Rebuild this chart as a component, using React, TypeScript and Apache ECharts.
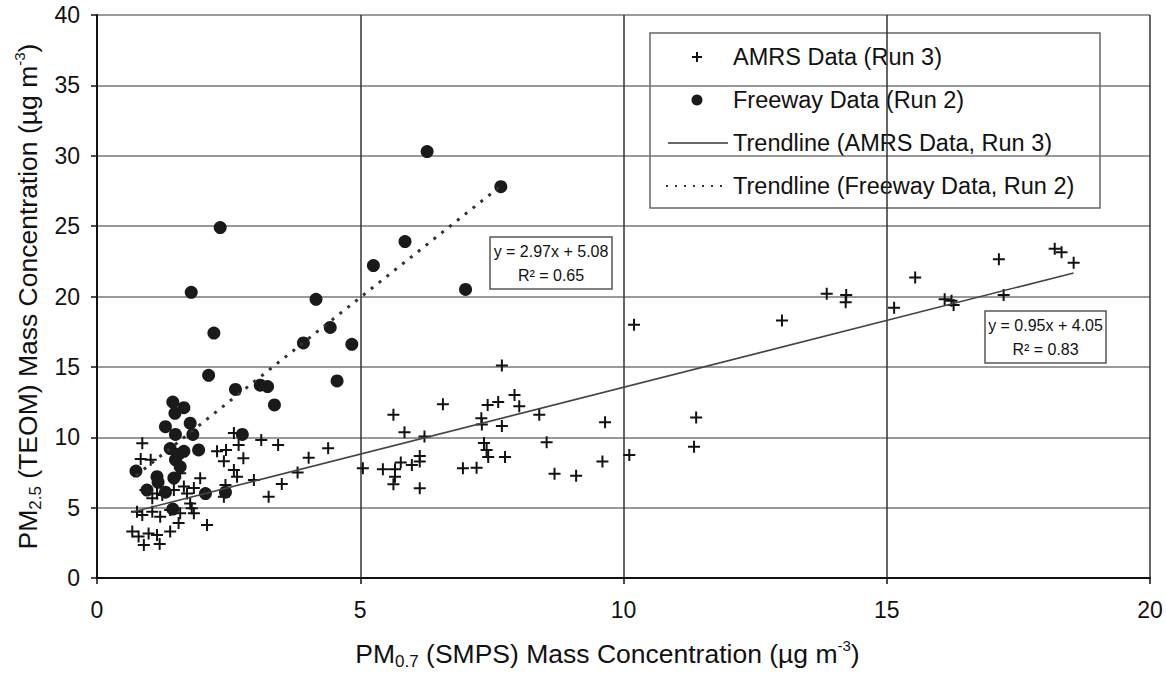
import React, { useEffect, useRef } from "react";
import * as echarts from "echarts";

// ---- data ----
const amrsPoints: [number, number][] = [
  [0.67, 3.3], [0.76, 4.7], [0.79, 2.94], [0.83, 8.46], [0.86, 9.57], [0.86, 4.48],
  [0.89, 2.35], [0.92, 6.25], [0.98, 3.17], [1.02, 8.4], [1.05, 4.7], [1.05, 5.66],
  [1.14, 3.06], [1.14, 6.0], [1.19, 2.42], [1.2, 4.36], [1.24, 5.9], [1.39, 4.83],
  [1.39, 3.3], [1.46, 6.25], [1.55, 3.9], [1.58, 4.6], [1.58, 7.44], [1.65, 6.5],
  [1.71, 6.0], [1.77, 5.3], [1.8, 4.95], [1.84, 4.6], [1.84, 6.4], [1.96, 7.09], [2.09, 3.77],
  [2.28, 9.0], [2.45, 9.1], [2.41, 8.3], [2.6, 10.3], [2.69, 9.45], [2.78, 8.5],
  [2.6, 7.68], [2.66, 7.2], [2.44, 6.6], [2.41, 5.78], [2.98, 6.97], [3.12, 9.8],
  [3.26, 5.78], [3.44, 9.45], [3.51, 6.68], [3.81, 7.5], [4.02, 8.55], [4.39, 9.22],
  [5.05, 7.8], [5.43, 7.73], [5.63, 11.6], [5.66, 7.73], [5.66, 7.2], [5.63, 6.66],
  [5.77, 8.2], [5.84, 10.35], [5.98, 8.03], [6.13, 8.67], [6.13, 8.27], [6.13, 6.38],
  [6.22, 10.05], [6.57, 12.35], [6.95, 7.8], [7.21, 7.84], [7.3, 11.35], [7.31, 10.9],
  [7.35, 9.6], [7.4, 9.1], [7.43, 8.6], [7.42, 12.3], [7.62, 12.5], [7.93, 13.0],
  [8.02, 12.2], [7.69, 10.8], [7.69, 15.1], [7.75, 8.6], [8.4, 11.6], [8.54, 9.65],
  [8.69, 7.4], [9.1, 7.27], [9.6, 8.27], [9.65, 11.07], [10.11, 8.74], [10.2, 18.0],
  [11.38, 11.4], [11.34, 9.33],
  [13.01, 18.3], [13.86, 20.2], [14.23, 20.1], [14.22, 19.6], [15.14, 19.2], [15.54, 21.35],
  [16.1, 19.8], [16.23, 19.7], [16.27, 19.4], [17.13, 22.65], [17.22, 20.1],
  [18.19, 23.4], [18.32, 23.15], [18.55, 22.4],
];

const freewayPoints: [number, number][] = [
  [0.74, 7.6], [0.95, 6.25], [1.14, 7.2], [1.16, 6.8], [1.3, 6.1], [1.3, 10.75],
  [1.39, 9.2], [1.44, 4.9], [1.44, 12.5], [1.46, 7.1], [1.48, 11.7], [1.49, 10.2],
  [1.49, 8.4], [1.55, 8.8], [1.58, 7.9], [1.65, 12.1], [1.65, 9.0], [1.77, 11.0],
  [1.79, 20.3], [1.82, 10.2], [1.93, 9.1], [2.06, 6.0], [2.12, 14.4], [2.22, 17.4],
  [2.34, 24.9], [2.44, 6.1], [2.63, 13.4], [2.76, 10.2], [3.1, 13.7], [3.24, 13.6],
  [3.37, 12.3], [3.92, 16.7], [4.16, 19.8], [4.43, 17.8], [4.56, 14.0], [4.84, 16.6],
  [5.25, 22.2], [5.85, 23.9], [6.27, 30.3], [7.0, 20.5], [7.67, 27.8],
];

const amrsTrendCoef = [0.95, 4.05]; // slope, intercept
const freewayTrendCoef = [2.97, 5.08];

const legendLabels = [
  "AMRS Data (Run 3)",
  "Freeway Data (Run 2)",
  "Trendline (AMRS Data, Run 3)",
  "Trendline (Freeway Data, Run 2)",
];
const freewayEqLines = ["y = 2.97x + 5.08", "R² = 0.65"];
const amrsEqLines = ["y = 0.95x + 4.05", "R² = 0.83"];

const FONT = "'Liberation Sans', Arial, sans-serif";

function trendLine(points: [number, number][], coef: number[]): [number, number][] {
  const xs = points.map((p) => p[0]);
  const lo = Math.min(...xs);
  const hi = Math.max(...xs);
  return [
    [lo, coef[0] * lo + coef[1]],
    [hi, coef[0] * hi + coef[1]],
  ];
}

const CROSS = "path://M5 0h2v5h5v2h-5v5h-2v-5h-5v-2h5z";

const nameRich = {
  n: { fontSize: 26.5, fontFamily: FONT, color: "#111", lineHeight: 32, verticalAlign: "middle" },
  sub: { fontSize: 17, fontFamily: FONT, color: "#111", lineHeight: 17, verticalAlign: "bottom" },
  sup: { fontSize: 15, fontFamily: FONT, color: "#111", lineHeight: 15, verticalAlign: "top" },
};

function eqBox(x: number, y: number, w: number, h: number, lines: string[]) {
  return {
    type: "group",
    z: 100,
    children: [
      {
        type: "rect",
        shape: { x, y, width: w, height: h },
        style: { fill: "#fff", stroke: "#555", lineWidth: 1.5 },
      },
      ...lines.map((t, i) => ({
        type: "text",
        x: x + w / 2,
        y: y + 14 + i * 24,
        style: {
          text: t,
          fontSize: 16,
          fontFamily: FONT,
          fill: "#111",
          align: "center",
          verticalAlign: "middle",
        },
      })),
    ],
  };
}

export default function App() {
  const ref = useRef<HTMLDivElement>(null);

  useEffect(() => {
    if (!ref.current) return;
    const chart = echarts.init(ref.current, undefined, { renderer: "svg" });

    const legendX = 650;
    const legendY = 33;
    const rowY = [57, 100, 143, 186];
    const markX = 697;
    const textX = 733;

    chart.setOption({
      animation: false,
      backgroundColor: "#fff",
      grid: { left: 97, right: 16, top: 15, bottom: 99 },
      xAxis: {
        type: "value",
        min: 0,
        max: 20,
        interval: 5,
        name: "{n|PM}{sub|0.7}{n| (SMPS) Mass Concentration (µg m}{sup|-3}{n|)}",
        nameLocation: "middle",
        nameGap: 60,
        nameTextStyle: { rich: nameRich, padding: [0, 32, 0, 0] },
        axisLine: { lineStyle: { color: "#111", width: 2 } },
        axisTick: { show: true, length: 6, lineStyle: { color: "#111", width: 1.5 } },
        axisLabel: { fontSize: 23, fontFamily: FONT, color: "#111", margin: 20 },
        splitLine: { show: true, lineStyle: { color: "#333", width: 1.5 } },
      },
      yAxis: {
        type: "value",
        min: 0,
        max: 40,
        interval: 5,
        name: "{n|PM}{sub|2.5}{n| (TEOM) Mass Concentration (µg m}{sup|-3}{n|)}",
        nameLocation: "middle",
        nameGap: 49,
        nameTextStyle: { rich: nameRich },
        axisLine: { show: true, lineStyle: { color: "#111", width: 2 } },
        axisTick: { show: true, length: 6, lineStyle: { color: "#111", width: 1.5 } },
        axisLabel: { fontSize: 23, fontFamily: FONT, color: "#111", margin: 17 },
        splitLine: { show: true, lineStyle: { color: "#777", width: 1.5 } },
      },
      series: [
        {
          name: legendLabels[0],
          type: "scatter",
          data: amrsPoints,
          symbol: CROSS,
          symbolSize: 12,
          itemStyle: { color: "#111", opacity: 1 },
          z: 3,
        },
        {
          name: legendLabels[1],
          type: "scatter",
          data: freewayPoints,
          symbol: "circle",
          symbolSize: 13,
          itemStyle: { color: "#1a1a1a", opacity: 1 },
          z: 4,
        },
        {
          name: legendLabels[2],
          type: "line",
          data: trendLine(amrsPoints, amrsTrendCoef),
          showSymbol: false,
          symbol: "none",
          lineStyle: { color: "#444", width: 1.5 },
          z: 5,
        },
        {
          name: legendLabels[3],
          type: "line",
          data: trendLine(freewayPoints, freewayTrendCoef),
          showSymbol: false,
          symbol: "none",
          lineStyle: { color: "#333", width: 3, type: [3, 7] },
          z: 5,
        },
      ],
      graphic: [
        {
          type: "group",
          z: 100,
          children: [
            {
              type: "rect",
              shape: { x: legendX, y: legendY, width: 450, height: 175 },
              style: { fill: "#fff", stroke: "#666", lineWidth: 1.5 },
            },
            {
              type: "line",
              shape: { x1: markX - 5, y1: rowY[0], x2: markX + 5, y2: rowY[0] },
              style: { stroke: "#111", lineWidth: 2 },
            },
            {
              type: "line",
              shape: { x1: markX, y1: rowY[0] - 5, x2: markX, y2: rowY[0] + 5 },
              style: { stroke: "#111", lineWidth: 2 },
            },
            {
              type: "circle",
              shape: { cx: markX, cy: rowY[1], r: 5.5 },
              style: { fill: "#1a1a1a" },
            },
            {
              type: "line",
              shape: { x1: 668, y1: rowY[2], x2: 728, y2: rowY[2] },
              style: { stroke: "#333", lineWidth: 1.5 },
            },
            {
              type: "line",
              shape: { x1: 666, y1: rowY[3], x2: 728, y2: rowY[3] },
              style: { stroke: "#333", lineWidth: 2, lineDash: [2, 7] },
            },
            ...legendLabels.map((t, i) => ({
              type: "text",
              x: textX,
              y: rowY[i],
              style: {
                text: t,
                fontSize: 23.5,
                fontFamily: FONT,
                fill: "#111",
                verticalAlign: "middle",
              },
            })),
          ],
        },
        eqBox(490, 237, 122, 52, freewayEqLines),
        eqBox(985, 311, 121, 52, amrsEqLines),
      ],
    });

    return () => chart.dispose();
  }, []);

  return (
    <div
      ref={ref}
      style={{ position: "fixed", left: 0, top: 0, width: 1166, height: 677, background: "#fff" }}
    />
  );
}
